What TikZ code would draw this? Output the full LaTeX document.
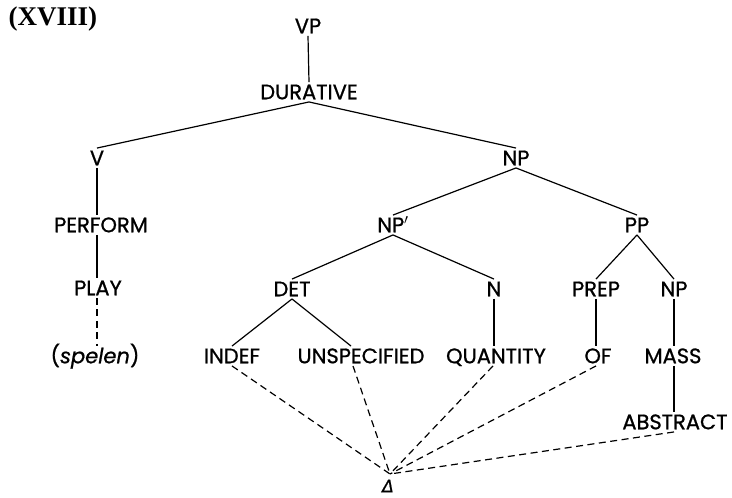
\documentclass[tikz,border=0pt]{standalone}
\usepackage{fontspec}
\setmainfont{Poppins}[FakeBold=0.9]
\newfontfamily\titlefont{Liberation Serif}
\newfontfamily\dvfont{DejaVu Sans}[FakeBold=0.8]
\begin{document}
\begin{tikzpicture}[x=1pt,y=-1pt,
  lab/.style={font=\fontsize{21}{21}\selectfont, inner sep=2.5pt, text height=14.5pt, text depth=0pt},
  edge/.style={line width=1.2pt, black},
  dedge/.style={line width=1.2pt, black, dash pattern=on 7pt off 4.5pt}]
\useasboundingbox (0,0) rectangle (732,498);
\fill[white] (0,0) rectangle (732,498);
\node[font=\titlefont\bfseries\fontsize{27}{27}\selectfont, inner sep=0pt] (title) at (53,19) {(XVIII)};
\node[lab] (VP) at (308,26) {VP};
\node[lab] (DUR) at (309,92) {DURATIVE};
\node[lab] (V) at (97,158) {V};
\node[lab] (NP) at (516,158) {NP};
\node[lab] (PERF) at (101,225) {PERFORM};
\node[lab] (NPp) at (393,225) {NP$'$};
\node[lab] (PP) at (637,225) {PP};
\node[lab] (PLAY) at (98,288) {PLAY};
\node[lab] (DET) at (292,289) {DET};
\node[lab] (N) at (494,289) {N};
\node[lab] (PREP) at (596,289) {PREP};
\node[lab] (NPb) at (674,289) {NP};
\node[lab] (spelen) at (95,356) {(\textit{spelen})};
\node[lab] (INDEF) at (232,356) {INDEF};
\node[lab] (UNSPEC) at (361,356) {UNSPECIFIED};
\node[lab] (QUANT) at (496,356) {QUANTITY};
\node[lab] (OF) at (598,356) {OF};
\node[lab] (MASS) at (673,356) {MASS};
\node[lab] (ABS) at (675,422) {ABSTRACT};
\node[font=\dvfont\itshape\fontsize{17}{17}\selectfont, inner sep=0.5pt] (delta) at (388,486) {Δ};
\coordinate (conv) at (390,474);

\draw[edge] (VP.south) -- (DUR.north);
\draw[edge] (DUR.south) -- (V.north);
\draw[edge] (DUR.south) -- (NP.north);
\draw[edge] (V.south) -- ([xshift=-4pt]PERF.north);
\draw[edge] (PERF.south -| V) -- (PLAY.north -| V);
\draw[dedge] (PLAY.south -| V) -- (spelen.north -| V);
\draw[edge] (NP.south) -- (NPp.north);
\draw[edge] (NP.south) -- (PP.north);
\draw[edge] (NPp.south) -- (DET.north);
\draw[edge] (NPp.south) -- (N.north);
\draw[edge] (PP.south) -- (PREP.north);
\draw[edge] (PP.south) -- (NPb.north);
\draw[edge] (DET.south) -- (INDEF.north);
\draw[edge] (DET.south) -- ([xshift=-10pt]UNSPEC.north);
\draw[edge] (N.south) -- (QUANT.north -| N);
\draw[edge] (PREP.south) -- (OF.north -| PREP);
\draw[edge] (NPb.south) -- (MASS.north -| NPb);
\draw[edge] (MASS.south -| NPb) -- (ABS.north -| NPb);

\draw[dedge] (INDEF.south) -- (conv);
\draw[dedge] ([xshift=-8pt]UNSPEC.south) -- (conv);
\draw[dedge] ([xshift=-3pt]QUANT.south) -- (conv);
\draw[dedge] ([xshift=-2pt]OF.south) -- (conv);
\draw[dedge] ([xshift=-1pt]ABS.south) -- (conv);
\end{tikzpicture}
\end{document}
